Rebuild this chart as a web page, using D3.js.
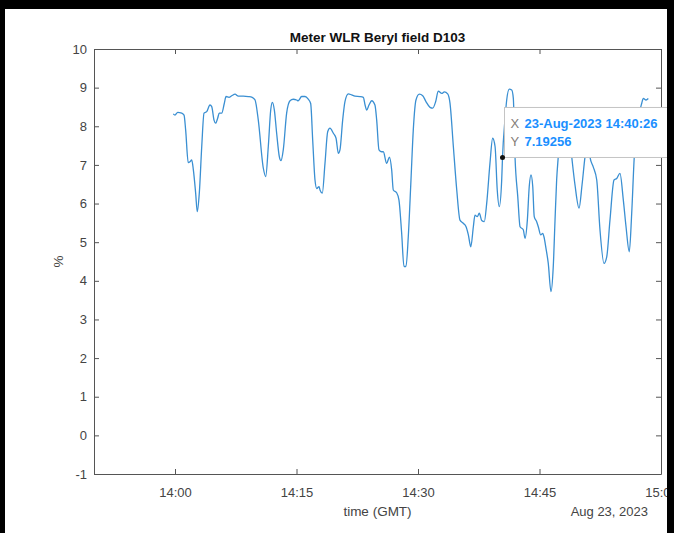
<!DOCTYPE html>
<html>
<head>
<meta charset="utf-8">
<script src="https://cdn.jsdelivr.net/npm/d3@7"></script>
<style>
  body { margin: 0; background: #fff; }
  svg { display: block; font-family: "Liberation Sans", Arial, sans-serif; }
  .tick text { font-size: 13px; fill: #444; }
  .tick line, .domain { stroke: #555; }
</style>
</head>
<body>
<div id="chart"></div>
<script>
// readings of the WLR meter (time of day, %)
const times = [
  "13:59:47","14:00:00","14:00:20","14:00:50","14:01:07","14:01:19","14:01:38","14:01:51","14:02:04","14:02:16",
  "14:02:33","14:02:45","14:03:00","14:03:18","14:03:35","14:03:55","14:04:19","14:04:32","14:04:49","14:05:01",
  "14:05:16","14:05:28","14:05:46","14:06:05","14:06:18","14:06:40","14:07:00","14:07:25","14:07:49","14:08:26",
  "14:09:03","14:09:32","14:09:53","14:10:17","14:10:54","14:11:12","14:11:31","14:11:49","14:12:01","14:12:16",
  "14:12:33","14:12:53","14:13:05","14:13:22","14:13:47","14:14:12","14:14:36","14:15:01","14:15:13","14:15:38",
  "14:16:03","14:16:27","14:16:45","14:17:00","14:17:17","14:17:30","14:17:47","14:17:54","14:18:11","14:18:31",
  "14:18:51","14:19:08","14:19:33","14:19:53","14:20:10","14:20:22","14:20:42","14:20:59","14:21:24","14:21:49",
  "14:22:13","14:22:50","14:23:15","14:23:28","14:23:40","14:23:57","14:24:17","14:24:41","14:24:54","14:25:11",
  "14:25:31","14:25:43","14:26:08","14:26:28","14:26:45","14:26:57","14:27:22","14:27:39","14:27:59","14:28:16",
  "14:28:31","14:28:48","14:29:08","14:29:25","14:29:45","14:30:10","14:30:35","14:30:59","14:31:29","14:31:49",
  "14:32:11","14:32:30","14:32:56","14:33:15","14:33:40","14:33:57","14:34:22","14:34:47","14:35:11","14:35:35",
  "14:35:56","14:36:13","14:36:31","14:36:50","14:37:02","14:37:19","14:37:34","14:37:52","14:38:11","14:38:29",
  "14:38:53","14:39:13","14:39:31","14:39:47","14:40:02","14:40:20","14:40:26","14:40:44","14:40:57","14:41:16",
  "14:41:34","14:41:46","14:41:59","14:42:19","14:42:36","14:43:00","14:43:13","14:43:30","14:43:44","14:43:57",
  "14:44:10","14:44:21","14:44:39","14:44:51","14:45:09","14:45:24","14:45:33","14:45:48","14:46:05","14:46:25",
  "14:46:42","14:46:55","14:47:07","14:47:19","14:47:39","14:48:09","14:48:38","14:48:59","14:49:23","14:49:53",
  "14:50:15","14:50:37","14:50:59","14:51:14","14:51:38","14:52:04","14:52:28","14:52:58","14:53:18","14:53:42",
  "14:54:12","14:54:32","14:54:56","14:55:21","14:55:41","14:56:05","14:56:23","14:56:42","14:57:10","14:57:37",
  "14:57:49","14:58:09","14:58:26"
];
const wlr = [
  8.32,8.29,8.36,8.34,8.29,7.90,7.06,7.08,7.13,6.87,
  6.27,5.79,6.27,7.47,8.34,8.38,8.55,8.51,8.16,8.08,
  8.21,8.34,8.34,8.59,8.77,8.75,8.79,8.83,8.78,8.78,
  8.77,8.75,8.68,8.16,6.92,6.70,7.47,8.42,8.62,8.42,
  7.82,7.21,7.11,7.39,8.34,8.66,8.70,8.68,8.66,8.77,
  8.77,8.70,8.59,7.64,6.61,6.39,6.44,6.35,6.27,7.04,
  7.86,7.95,7.82,7.69,7.30,7.39,8.16,8.64,8.84,8.81,
  8.78,8.77,8.75,8.55,8.42,8.55,8.66,8.55,8.16,7.39,
  7.34,7.34,7.04,7.20,6.87,6.35,6.28,6.09,5.23,4.37,
  4.37,5.14,6.61,7.90,8.68,8.83,8.79,8.64,8.49,8.47,
  8.64,8.91,8.85,8.89,8.84,8.60,7.47,6.35,5.57,5.49,
  5.40,5.19,4.88,5.40,5.70,5.66,5.75,5.56,5.53,6.01,
  7.04,7.69,7.47,6.35,5.92,6.61,7.19256,8.16,8.68,8.96,
  8.94,8.73,7.18,6.18,5.40,5.32,5.10,5.57,6.44,6.74,
  6.44,5.66,5.53,5.40,5.19,5.23,5.14,4.84,4.45,3.72,
  4.37,5.57,6.61,7.21,8.03,8.21,7.90,7.20,6.48,5.88,
  6.48,7.20,7.64,7.20,6.95,6.61,5.32,4.45,4.62,5.57,
  6.61,6.65,6.78,6.09,5.40,4.75,5.75,7.21,8.16,8.59,
  8.72,8.68,8.72
];
const xTicks = ["14:00:00","14:15:00","14:30:00","14:45:00","15:00:00"];
const yTicks = [-1,0,1,2,3,4,5,6,7,8,9,10];
const tipTime = "14:40:26";
const tipValue = 7.19256;

const width = 674, height = 533;
const plotL = 94, plotR = 661, plotT = 49, plotB = 474;

const parse = d3.timeParse("%H:%M:%S");
const data = times.map((t, i) => ({ t: parse(t), v: wlr[i] }));

const svg = d3.select("#chart").append("svg")
  .attr("width", width).attr("height", height);

const x = d3.scaleTime()
  .domain([parse("13:50:00"), parse("15:00:00")])
  .range([plotL, plotR]);
const y = d3.scaleLinear().domain([-1, 10]).range([plotB, plotT]);

// axes, ticks pointing inward on all four sides
svg.append("g").attr("transform", `translate(0,${plotB})`)
  .call(d3.axisBottom(x).tickValues(xTicks.map(parse)).tickFormat(d3.timeFormat("%H:%M"))
    .tickSizeInner(-5).tickSizeOuter(0).tickPadding(14));
svg.append("g").attr("transform", `translate(0,${plotT})`)
  .call(d3.axisTop(x).tickValues(xTicks.map(parse)).tickFormat("")
    .tickSizeInner(-5).tickSizeOuter(0));
svg.append("g").attr("transform", `translate(${plotL},0)`)
  .call(d3.axisLeft(y).tickValues(yTicks).tickFormat(d => String(d))
    .tickSizeInner(-5).tickSizeOuter(0).tickPadding(7));
svg.append("g").attr("transform", `translate(${plotR},0)`)
  .call(d3.axisRight(y).tickValues(yTicks).tickFormat("").tickSizeInner(-5).tickSizeOuter(0));

svg.selectAll("g").attr("font-family", null).attr("font-size", null);

// series
const line = d3.line().x(d => x(d.t)).y(d => y(d.v)).curve(d3.curveMonotoneX);
svg.append("path").datum(data)
  .attr("fill", "none")
  .attr("stroke", "#3a8fd2")
  .attr("stroke-width", 1.3)
  .attr("d", line);

// labels
svg.append("text").attr("x", (plotL + plotR) / 2).attr("y", 42)
  .attr("text-anchor", "middle").attr("font-weight", "bold")
  .attr("font-size", 13.5).attr("fill", "#111")
  .text("Meter WLR Beryl field D103");
svg.append("text").attr("x", (plotL + plotR) / 2).attr("y", 516)
  .attr("text-anchor", "middle").attr("font-size", 13.5).attr("fill", "#444")
  .text("time (GMT)");
svg.append("text").attr("x", 648).attr("y", 516)
  .attr("text-anchor", "end").attr("font-size", 13).attr("fill", "#444")
  .text("Aug 23, 2023");
svg.append("text")
  .attr("transform", `translate(63,${(plotT + plotB) / 2}) rotate(-90)`)
  .attr("text-anchor", "middle").attr("font-size", 13.5).attr("fill", "#444")
  .text("%");

// data tip
const tx = x(parse(tipTime)), ty = y(tipValue);
svg.append("rect")
  .attr("x", tx + 2).attr("y", ty - 50)
  .attr("width", 200).attr("height", 50)
  .attr("fill", "#fff").attr("stroke", "#c4c4c4");
svg.append("circle").attr("cx", tx).attr("cy", ty).attr("r", 2.5).attr("fill", "#111");
const tip = svg.append("g").attr("font-size", 13);
tip.append("text").attr("x", tx + 8).attr("y", ty - 29).attr("fill", "#857d78").text("X");
tip.append("text").attr("x", tx + 22).attr("y", ty - 29).attr("fill", "#1a8fff")
  .attr("font-weight", "bold").text("23-Aug-2023 " + tipTime);
tip.append("text").attr("x", tx + 8).attr("y", ty - 11).attr("fill", "#857d78").text("Y");
tip.append("text").attr("x", tx + 22).attr("y", ty - 11).attr("fill", "#1a8fff")
  .attr("font-weight", "bold").text(String(tipValue));

// black frame of the screenshot
svg.append("rect").attr("x", 0).attr("y", 0).attr("width", width).attr("height", 9).attr("fill", "#000");
svg.append("rect").attr("x", 0).attr("y", 0).attr("width", 5).attr("height", height).attr("fill", "#000");
svg.append("rect").attr("x", 667).attr("y", 0).attr("width", 7).attr("height", height).attr("fill", "#000");
</script>
</body>
</html>
